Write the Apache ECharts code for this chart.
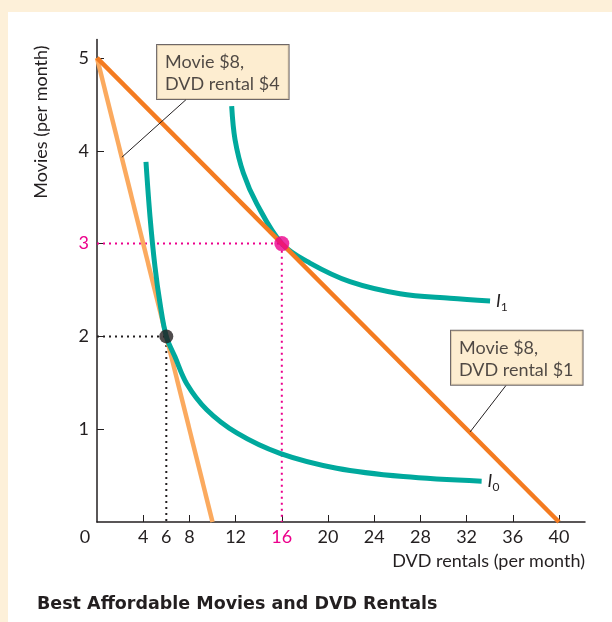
<!DOCTYPE html>
<html>
<head>
<meta charset="utf-8">
<script src="https://cdn.jsdelivr.net/npm/echarts@6/dist/echarts.min.js"></script>
<style>
  html, body { margin: 0; padding: 0; background: #fdf0d9; }
  #panel { position: absolute; left: 8px; top: 12px; width: 604px; height: 610px; background: #fff; }
  #chart { position: absolute; left: 0; top: 0; width: 612px; height: 622px; }
</style>
</head>
<body>
<div id="panel"></div>
<div id="chart"></div>
<script>
  // --- data ---
  const xLabelValues = [0, 4, 6, 8, 12, 16, 20, 24, 28, 32, 36, 40];
  const xTickValues = [4, 8, 12, 16, 20, 24, 28, 32, 36, 40];
  const yValues = [1, 2, 3, 4, 5];

  // budget lines
  const budgetRental4 = [[0, 5], [10, 0]];   // Movie $8, DVD rental $4
  const budgetRental1 = [[0, 5], [40, 0]];   // Movie $8, DVD rental $1

  // indifference curves
  const curveI0 = [[4.24, 3.88], [4.59, 3.29], [5.02, 2.75], [5.45, 2.36], [6, 2],
    [6.75, 1.78], [7.77, 1.49], [9.5, 1.21], [12.1, 0.96], [15.84, 0.74],
    [20.75, 0.58], [26.52, 0.49], [33.3, 0.44]];
  const curveI1 = [[11.66, 4.48], [11.95, 4.12], [12.67, 3.76], [13.83, 3.43], [16, 3],
    [18.44, 2.79], [21.9, 2.59], [26.23, 2.46], [30.56, 2.41], [34.03, 2.38]];

  // best affordable points
  const bestBefore = [6, 2];
  const bestAfter = [16, 3];

  // annotation boxes: top-left corner and leader line end points
  const box4 = { text: "Movie $8,\nDVD rental $4", at: [5.2, 5.14], leader: [[7.7, 4.55], [2.15, 3.93]] };
  const box1 = { text: "Movie $8,\nDVD rental $1", at: [30.65, 2.06], leader: [[35.4, 1.47], [32.3, 0.97]] };

  const INK = "#231f20";
  const PINK = "#ec008c";
  const ORANGE = "#f47b20";
  const ORANGE_LT = "#fbaa5f";
  const TEAL = "#00a99d";
  const FONT = "Lato";
  const FS = 18;

  const chart = echarts.init(document.getElementById("chart"), null, { renderer: "canvas" });

  function guide(data, color) {
    return {
      type: "line", data: data, symbol: "none", silent: true, z: 1,
      lineStyle: { color: color, width: 2, type: [2, 4] }
    };
  }

  function curve(data, name) {
    return {
      type: "line", data: data, symbol: "none", smooth: 0.35, z: 3,
      lineStyle: { color: TEAL, width: 5 },
      endLabel: {
        show: true, distance: 6,
        formatter: "{i|I}{s|" + name + "}",
        rich: {
          i: { fontFamily: FONT, fontStyle: "italic", fontSize: FS, color: INK },
          s: { fontFamily: FONT, fontSize: 12, color: INK, padding: [12, 0, 0, 0] }
        }
      }
    };
  }

  function noteBox(b) {
    return [
      {
        type: "line", data: b.leader, symbol: "none", silent: true, z: 5,
        lineStyle: { color: INK, width: 1 }
      },
      {
        type: "scatter", data: [b.at], symbolSize: 0, silent: true, z: 6,
        label: {
          show: true, position: [0, 0], formatter: b.text,
          fontFamily: FONT, fontSize: FS, lineHeight: 22, color: INK,
          align: "left", verticalAlign: "top",
          backgroundColor: "#fde9c4", borderColor: "#4a4141", borderWidth: 1,
          padding: [6, 9, 4, 8]
        }
      }
    ];
  }

  const option = {
    animation: false,
    backgroundColor: "transparent",
    title: {
      text: "Best Affordable Movies and DVD Rentals",
      left: 37, top: 595, padding: 0,
      textStyle: { fontFamily: "DejaVu Sans", fontWeight: "bold", fontSize: 17.5, color: INK }
    },
    grid: { left: 97, right: 27, top: 39.4, bottom: 100 },
    xAxis: {
      type: "value", min: 0, max: 42.25,
      name: "DVD rentals (per month)", nameLocation: "end", nameGap: 0,
      nameTextStyle: { fontFamily: FONT, fontSize: FS, color: INK, align: "right", verticalAlign: "top", padding: [30, 0, 0, 0] },
      axisLine: { lineStyle: { color: INK, width: 1.5 } },
      axisTick: { show: true, inside: true, length: 7, customValues: xTickValues, lineStyle: { color: INK } },
      axisLabel: {
        customValues: xLabelValues, margin: 6, fontFamily: FONT, fontSize: FS, color: INK,
        formatter: function (v) {
          if (v === 16) return "{p|16}";
          if (v === 0) return "{z|0}";
          return String(v);
        },
        rich: {
          p: { color: PINK, fontFamily: FONT, fontSize: FS },
          z: { color: INK, fontFamily: FONT, fontSize: FS, padding: [0, 24, 0, 0] }
        }
      },
      splitLine: { show: false }
    },
    yAxis: {
      type: "value", min: 0, max: 5.2,
      name: "Movies (per month)", nameLocation: "end", nameGap: -6, nameRotate: 90,
      nameTextStyle: { fontFamily: FONT, fontSize: FS, color: INK, align: "right", verticalAlign: "bottom", padding: [0, 0, 47, 0] },
      axisLine: { show: true, lineStyle: { color: INK, width: 1.5 } },
      axisTick: { show: true, inside: true, length: 7, customValues: yValues, lineStyle: { color: INK } },
      axisLabel: {
        customValues: yValues, margin: 8, fontFamily: FONT, fontSize: FS, color: INK,
        formatter: function (v) { return v === 3 ? "{p|3}" : String(v); },
        rich: { p: { color: PINK, fontFamily: FONT, fontSize: FS } }
      },
      splitLine: { show: false }
    },
    series: [
      guide([[0, bestAfter[1]], bestAfter, [bestAfter[0], 0]], PINK),
      guide([[0, bestBefore[1]], bestBefore, [bestBefore[0], 0]], INK),
      { type: "line", data: budgetRental4, symbol: "none", z: 2, lineStyle: { color: ORANGE_LT, width: 4.5 } },
      curve(curveI0, "0"),
      curve(curveI1, "1"),
      { type: "line", data: budgetRental1, symbol: "none", z: 4, lineStyle: { color: ORANGE, width: 4.5 } },
      { type: "scatter", data: [bestBefore], symbolSize: 14, z: 7, itemStyle: { color: INK } },
      { type: "scatter", data: [bestAfter], symbolSize: 15, z: 7, itemStyle: { color: PINK } }
    ].concat(noteBox(box4), noteBox(box1))
  };

  chart.setOption(option);
</script>
</body>
</html>
